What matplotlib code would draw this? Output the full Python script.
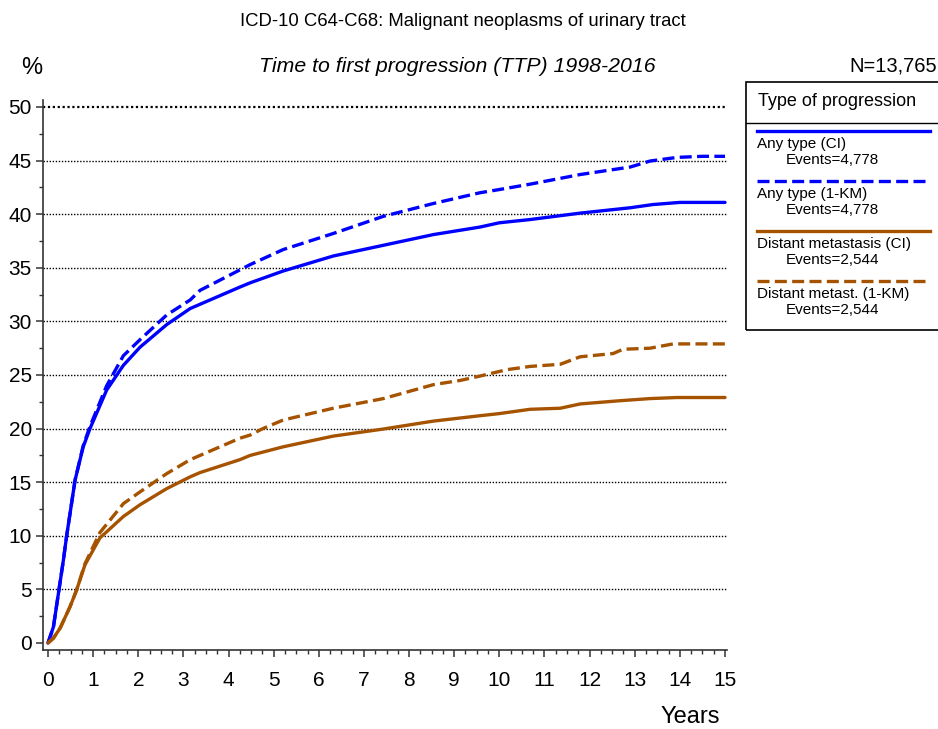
import matplotlib
matplotlib.use("Agg")
import matplotlib.pyplot as plt
from matplotlib.lines import Line2D
from matplotlib.patches import Rectangle
from matplotlib.ticker import MultipleLocator

plt.rcParams['font.family'] = ['Liberation Sans', 'DejaVu Sans']

# Cumulative progression curves (years, percent)
any_ci_t = [0, 0.12, 0.23, 0.34, 0.41, 0.6, 0.78, 0.93, 1.3, 1.67, 2.04, 2.63, 3.15, 3.37,
            4.25, 4.48, 5.21, 6.32, 7.43, 8.54, 9.57, 10.0, 10.68, 11.79, 12.9, 13.4, 14.0, 15.0]
any_ci_v = [0, 1.5, 4.6, 7.7, 9.9, 15.2, 18.3, 20.0, 23.6, 25.9, 27.6, 29.7, 31.2, 31.6,
            33.2, 33.6, 34.7, 36.1, 37.1, 38.1, 38.8, 39.2, 39.5, 40.1, 40.6, 40.9, 41.1, 41.1]

any_km_t = [0, 0.12, 0.23, 0.34, 0.41, 0.6, 0.78, 0.93, 1.3, 1.67, 2.04, 2.63, 3.15, 3.37,
            4.25, 4.48, 5.21, 6.32, 7.43, 8.54, 9.57, 10.0, 10.68, 11.79, 12.9, 13.34, 13.94,
            14.5, 15.0]
any_km_v = [0, 1.5, 4.6, 7.7, 9.9, 15.2, 18.4, 20.2, 24.0, 26.8, 28.3, 30.6, 32.0, 32.9,
            34.8, 35.3, 36.7, 38.2, 39.8, 41.0, 42.0, 42.3, 42.8, 43.7, 44.4, 44.96, 45.3,
            45.4, 45.4]

dist_ci_t = [0, 0.12, 0.27, 0.49, 0.63, 0.82, 1.15, 1.67, 2.04, 2.63, 3.15, 3.37, 4.25, 4.48,
             5.21, 6.32, 7.43, 8.54, 9.57, 10.0, 10.68, 11.35, 11.79, 12.67, 13.34, 13.94, 15.0]
dist_ci_v = [0, 0.45, 1.4, 3.4, 4.9, 7.3, 9.8, 11.8, 12.9, 14.4, 15.5, 15.9, 17.1, 17.5,
             18.3, 19.3, 19.96, 20.7, 21.2, 21.4, 21.8, 21.9, 22.3, 22.6, 22.8, 22.9, 22.9]

dist_km_t = [0, 0.12, 0.27, 0.49, 0.63, 0.82, 1.15, 1.67, 2.04, 2.63, 3.15, 3.37, 4.25, 4.48,
             4.76, 5.21, 6.32, 7.43, 8.54, 9.14, 9.57, 10.17, 10.68, 11.35, 11.79, 12.52,
             12.74, 13.34, 13.85, 15.0]
dist_km_v = [0, 0.45, 1.4, 3.4, 4.9, 7.4, 10.3, 13.0, 14.1, 15.8, 17.1, 17.5, 19.1, 19.4,
             20.0, 20.8, 21.9, 22.8, 24.1, 24.5, 24.9, 25.5, 25.8, 26.0, 26.7, 27.0,
             27.4, 27.5, 27.9, 27.9]

legend_labels = ["Any type (CI)", "Any type (1-KM)", "Distant metastasis (CI)", "Distant metast. (1-KM)"]
legend_events = ["Events=4,778", "Events=4,778", "Events=2,544", "Events=2,544"]

BLUE = "#0000FF"
BROWN = "#A65300"
DASH = (0, (3.6, 1.6))
LW = 2.4

W, H = 938, 729
fig = plt.figure(figsize=(W / 100, H / 100), dpi=100)


def fx(px):
    return px / W


def fy(py):
    return 1 - py / H


ax = fig.add_axes([fx(43), fy(650), fx(727) - fx(43), fy(100) - fy(650)])
ax.set_xlim(-5 / 45.13, 15 + 2 / 45.13)
ax.set_ylim(-7 / 10.72, 50 + 7 / 10.72)

for v in range(5, 55, 5):
    ax.axhline(v, color="black", lw=1.6 if v == 50 else 1.0, ls=(0, (1, 1.2)), zorder=1)

series = [
    (any_ci_t, any_ci_v, BLUE, "-"),
    (any_km_t, any_km_v, BLUE, DASH),
    (dist_ci_t, dist_ci_v, BROWN, "-"),
    (dist_km_t, dist_km_v, BROWN, DASH),
]
for t, v, c, ls in series:
    ax.plot(t, v, color=c, ls=ls, lw=LW, zorder=3, solid_capstyle="round",
            solid_joinstyle="round")

for s in ["top", "right"]:
    ax.spines[s].set_visible(False)
for s in ["left", "bottom"]:
    ax.spines[s].set_linewidth(1.2)
    ax.spines[s].set_color("#333333")

ax.xaxis.set_major_locator(MultipleLocator(1))
ax.xaxis.set_minor_locator(MultipleLocator(0.25))
ax.yaxis.set_major_locator(MultipleLocator(5))
ax.yaxis.set_minor_locator(MultipleLocator(2.5))
ax.tick_params(axis="both", which="major", length=5, width=1.1, labelsize=15, color="#333333")
ax.tick_params(axis="both", which="minor", length=3, width=1.0, color="#333333")
ax.tick_params(axis="x", pad=10)
ax.tick_params(axis="y", pad=3)

# Titles and axis captions
fig.text(fx(463), fy(22), "ICD-10 C64-C68: Malignant neoplasms of urinary tract",
         ha="center", va="center", fontsize=13.3)
fig.text(fx(457), fy(66), "Time to first progression (TTP) 1998-2016",
         ha="center", va="center", fontsize=15.3, style="italic")
fig.text(fx(937), fy(66), "N=13,765", ha="right", va="center", fontsize=14.5)
fig.text(fx(32), fy(68), "%", ha="center", va="center", fontsize=17)
fig.text(fx(690), fy(717), "Years", ha="center", va="center", fontsize=17)

# Legend box
fig.add_artist(Rectangle((fx(746), fy(330)), fx(1000) - fx(746), fy(82) - fy(330),
                         transform=fig.transFigure, fill=False, ec="black", lw=1.2))
fig.add_artist(Line2D([fx(746), fx(1000)], [fy(123), fy(123)],
                      transform=fig.transFigure, color="black", lw=1.0))
fig.text(fx(758), fy(101), "Type of progression", ha="left", va="center", fontsize=13)

entry_y = [131, 181, 231, 281]
for (t, v, c, ls), lab, ev, yy in zip(series, legend_labels, legend_events, entry_y):
    fig.add_artist(Line2D([fx(757), fx(930)], [fy(yy), fy(yy)],
                          transform=fig.transFigure, color=c, ls=ls, lw=LW))
    fig.text(fx(757), fy(yy + 13), lab, ha="left", va="center", fontsize=11)
    fig.text(fx(786), fy(yy + 29), ev, ha="left", va="center", fontsize=11)

fig.savefig("out.png", dpi=100)
